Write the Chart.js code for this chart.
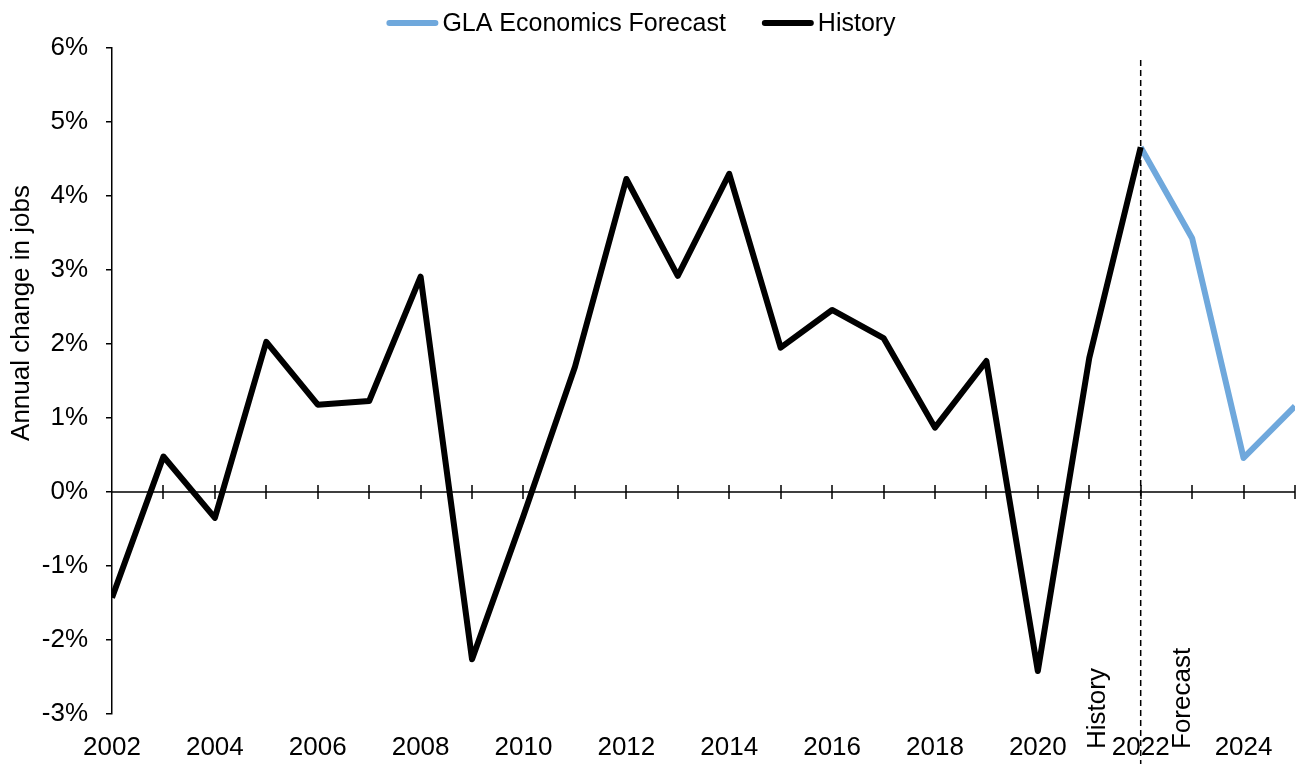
<!DOCTYPE html>
<html>
<head>
<meta charset="utf-8">
<script src="https://cdn.jsdelivr.net/npm/chart.js@4"></script>
<style>
  html, body { margin: 0; padding: 0; background: #fff; }
  #wrap { width: 1298px; height: 764px; }
</style>
</head>
<body>
<div id="wrap"><canvas id="c" width="1298" height="764"></canvas></div>
<script>
const historyYears = [2002,2003,2004,2005,2006,2007,2008,2009,2010,2011,2012,2013,2014,2015,2016,2017,2018,2019,2020,2021,2022];
const historyValues = [-1.43,0.48,-0.35,2.03,1.18,1.23,2.91,-2.26,-0.32,1.69,4.23,2.92,4.30,1.95,2.46,2.08,0.87,1.77,-2.42,1.81,4.66];
const forecastYears = [2022,2023,2024,2025];
const forecastValues = [4.66,3.43,0.46,1.16];
const xTickYears = [2002,2004,2006,2008,2010,2012,2014,2016,2018,2020,2022,2024];
const yTickValues = [-3,-2,-1,0,1,2,3,4,5,6];
const seriesNames = ['GLA Economics Forecast','History'];
const yAxisTitle = 'Annual change in jobs';
const dividerYear = 2022;
const dividerLabels = ['History','Forecast'];

const FONT = 'Liberation Sans, Arial, sans-serif';
const FS = 26;
Chart.defaults.font.family = FONT;
Chart.defaults.color = '#000';

const zeroAxisPlugin = {
  id: 'zeroAxis',
  beforeDatasetsDraw(chart) {
    const {ctx, chartArea, scales: {x, y}} = chart;
    const y0 = y.getPixelForValue(0);
    ctx.save();
    ctx.strokeStyle = '#000';
    ctx.lineWidth = 1.5;
    ctx.beginPath();
    ctx.moveTo(chartArea.left, y0);
    ctx.lineTo(chartArea.right, y0);
    for (let yr = x.min + 1; yr <= x.max; yr++) {
      const px = Math.round(x.getPixelForValue(yr));
      ctx.moveTo(px, y0 - 7);
      ctx.lineTo(px, y0 + 7);
    }
    ctx.stroke();
    const dx = x.getPixelForValue(dividerYear);
    ctx.setLineDash([6, 4]);
    ctx.lineWidth = 1.5;
    ctx.beginPath();
    ctx.moveTo(dx, 60);
    ctx.lineTo(dx, chart.height);
    ctx.stroke();
    ctx.restore();
  },
  afterDraw(chart) {
    const {ctx, scales: {x}} = chart;
    const dx = x.getPixelForValue(dividerYear);
    ctx.save();
    ctx.fillStyle = '#000';
    ctx.font = FS + 'px ' + FONT;
    ctx.textAlign = 'left';
    ctx.textBaseline = 'alphabetic';
    const pos = [[dx - 36, 749], [dx + 49, 749]];
    dividerLabels.forEach((t, i) => {
      ctx.save();
      ctx.translate(pos[i][0], pos[i][1]);
      ctx.rotate(-Math.PI / 2);
      ctx.fillText(t, 0, 0);
      ctx.restore();
    });
    // y axis title
    ctx.save();
    ctx.translate(22, 313);
    ctx.rotate(-Math.PI / 2);
    ctx.textAlign = 'center';
    ctx.textBaseline = 'middle';
    ctx.fillText(yAxisTitle, 0, 0);
    ctx.restore();
    // legend
    const ds = chart.data.datasets;
    ctx.font = '25px ' + FONT;
    ctx.textAlign = 'left';
    ctx.textBaseline = 'middle';
    const lineW = 52, gap = 4, itemGap = 36, ly = 23;
    const widths = ds.map(d => ctx.measureText(d.label).width);
    const total = widths.reduce((a, w) => a + lineW + gap + w, 0) + itemGap * (ds.length - 1);
    let lx = 641 - total / 2;
    ds.forEach((d, i) => {
      ctx.strokeStyle = d.borderColor;
      ctx.lineWidth = 6;
      ctx.lineCap = 'round';
      ctx.beginPath();
      ctx.moveTo(lx + 3, ly);
      ctx.lineTo(lx + lineW - 3, ly);
      ctx.stroke();
      ctx.fillStyle = '#000';
      ctx.fillText(d.label, lx + lineW + gap, ly + 1);
      lx += lineW + gap + widths[i] + itemGap;
    });
    ctx.restore();
  }
};

new Chart(document.getElementById('c'), {
  type: 'line',
  data: {
    datasets: [
      {
        label: seriesNames[0],
        data: forecastYears.map((yr, i) => ({x: yr, y: forecastValues[i]})),
        borderColor: '#6fa8dc',
        backgroundColor: '#6fa8dc',
        borderWidth: 6,
        pointRadius: 0,
        tension: 0,
        order: 1,
        borderJoinStyle: 'round'
      },
      {
        label: seriesNames[1],
        data: historyYears.map((yr, i) => ({x: yr, y: historyValues[i]})),
        borderColor: '#000',
        backgroundColor: '#000',
        borderWidth: 6,
        pointRadius: 0,
        tension: 0,
        order: 0,
        borderJoinStyle: 'round'
      }
    ]
  },
  options: {
    responsive: false,
    animation: false,
    layout: { padding: { left: 0, right: 3, top: 48, bottom: 0 } },
    plugins: {
      tooltip: { enabled: false },
      legend: { display: false }
    },
    scales: {
      x: {
        type: 'linear',
        min: 2002,
        max: 2025,
        afterBuildTicks: (axis) => { axis.ticks = xTickYears.map(v => ({value: v})); },
        afterFit: (axis) => { axis.height = 50; },
        grid: { display: false, drawTicks: false },
        border: { display: false },
        ticks: {
          font: { size: FS },
          color: '#000',
          padding: 18,
          maxRotation: 0,
          autoSkip: false,
          callback: (v) => String(v)
        }
      },
      y: {
        min: -3,
        max: 6,
        afterBuildTicks: (axis) => { axis.ticks = yTickValues.map(v => ({value: v})); },
        afterFit: (axis) => { axis.width = 112; },
        grid: { drawOnChartArea: false, drawTicks: true, tickLength: 6, color: '#000', lineWidth: 1.5 },
        border: { display: true, color: '#000', width: 1.5 },
        title: { display: false },
        ticks: {
          font: { size: FS },
          color: '#000',
          padding: 18,
          callback: (v) => v + '%'
        }
      }
    }
  },
  plugins: [zeroAxisPlugin]
});
</script>
</body>
</html>
